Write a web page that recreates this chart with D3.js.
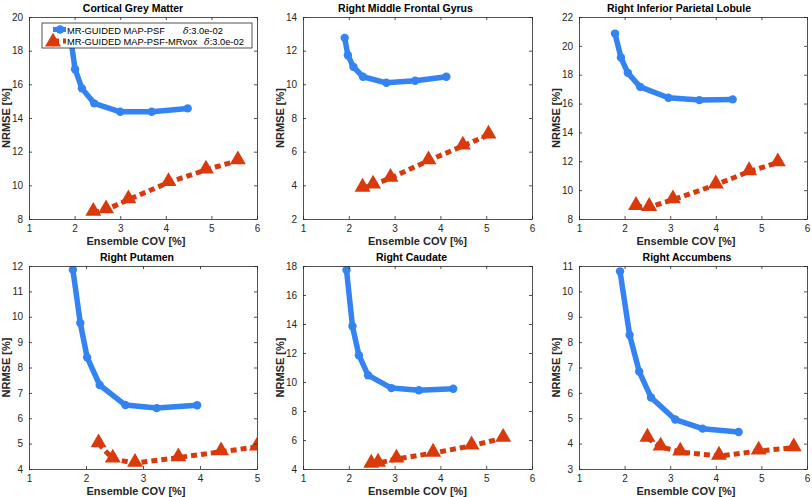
<!DOCTYPE html>
<html><head><meta charset="utf-8">
<script src="https://cdnjs.cloudflare.com/ajax/libs/d3/7.8.5/d3.min.js"></script>
<style>body{margin:0;background:#fff}svg{display:block}</style>
</head><body>
<script>
// ---- data ----
const titles = ["Cortical Grey Matter","Right Middle Frontal Gyrus","Right Inferior Parietal Lobule","Right Putamen","Right Caudate","Right Accumbens"];
const xMin = [1,1,1,1,1,1];
const xMax = [6,6,6,5,6,6];
const yMin = [8,2,8,4,4,3];
const yMax = [20,14,22,12,18,11];
const yStep = [2,2,2,1,2,1];
const seriesNames = ["MR-GUIDED MAP-PSF","MR-GUIDED MAP-PSF-MRvox"];
const deltaLabel = ":3.0e-02";
const psfCov = [
  [1.88,2.01,2.16,2.43,3.00,3.69,4.48],
  [1.91,1.98,2.10,2.31,2.82,3.45,4.13],
  [1.79,1.92,2.07,2.34,2.96,3.64,4.37],
  [1.77,1.90,2.02,2.24,2.69,3.24,3.95],
  [1.95,2.08,2.22,2.42,2.93,3.53,4.28],
  [1.90,2.11,2.32,2.58,3.11,3.71,4.50]
];
const psfNrmse = [
  [19.4,16.9,15.76,14.87,14.37,14.37,14.57],
  [12.76,11.73,11.04,10.45,10.09,10.21,10.45],
  [20.85,19.19,18.13,17.16,16.40,16.24,16.29],
  [11.85,9.75,8.40,7.31,6.52,6.40,6.51],
  [17.73,13.84,11.85,10.47,9.58,9.43,9.53],
  [10.79,8.28,6.84,5.82,4.95,4.59,4.46]
];
const mrvoxCov = [
  [2.41,2.69,3.18,4.06,4.88,5.58],
  [2.30,2.53,2.91,3.74,4.49,5.05],
  [2.25,2.54,3.06,4.00,4.73,5.36],
  [2.22,2.47,2.86,3.62,4.37,5.00],
  [2.49,2.64,3.04,3.84,4.68,5.37],
  [2.50,2.79,3.22,4.07,4.94,5.71]
];
const mrvoxNrmse = [
  [8.40,8.55,9.15,10.17,10.92,11.47],
  [3.84,4.03,4.43,5.47,6.34,6.99],
  [8.88,8.81,9.34,10.37,11.29,11.91],
  [5.00,4.40,4.23,4.45,4.68,4.87],
  [4.34,4.41,4.69,5.10,5.60,6.13],
  [4.22,3.87,3.67,3.51,3.71,3.84]
];

// ---- layout ----
const W = 812, H = 497;
const colX = [[29,257],[303,532],[579,807]];
const rowY = [[17,219],[266,469]];
const titleShift = [-10,-12,-14,-6,-6,-6];
const xLabelShift = [-7,0,-7,-7,0,-7];
const blue = "#3384F2", red = "#D9390B", ink = "#262626";
const font = "'Liberation Sans', Arial, Helvetica, sans-serif";

const svg = d3.select("body").append("svg").attr("width", W).attr("height", H)
  .style("font-family", font);
const tri = d3.symbol().type(d3.symbolTriangle).size(110);

titles.forEach((title, i) => {
  const c = i % 3, r = Math.floor(i / 3);
  const [x0, x1] = colX[c], [y0, y1] = rowY[r];
  const x = d3.scaleLinear().domain([xMin[i], xMax[i]]).range([x0, x1]);
  const y = d3.scaleLinear().domain([yMin[i], yMax[i]]).range([y1, y0]);
  const xt = d3.range(xMin[i], xMax[i] + 0.001, 1);
  const yt = d3.range(yMin[i], yMax[i] + 0.001, yStep[i]);
  const g = svg.append("g");

  const clipId = "clip" + i;
  g.append("clipPath").attr("id", clipId).append("rect")
    .attr("x", x0).attr("y", y0).attr("width", x1 - x0).attr("height", y1 - y0);
  const pg = g.append("g").attr("clip-path", `url(#${clipId})`);

  const line = d3.line().x(d => x(d[0])).y(d => y(d[1]));
  const bpts = psfCov[i].map((v, k) => [v, psfNrmse[i][k]]);
  const rpts = mrvoxCov[i].map((v, k) => [v, mrvoxNrmse[i][k]]);

  pg.append("path").datum(bpts).attr("d", line).attr("fill", "none")
    .attr("stroke", blue).attr("stroke-width", 5.5).attr("stroke-linejoin", "round");
  pg.selectAll("circle.b").data(bpts).enter().append("circle")
    .attr("cx", d => x(d[0])).attr("cy", d => y(d[1])).attr("r", 4.2).attr("fill", blue);

  pg.append("path").datum(rpts).attr("d", line).attr("fill", "none")
    .attr("stroke", red).attr("stroke-width", 5).attr("stroke-dasharray", "6,4");
  pg.selectAll("path.t").data(rpts).enter().append("path")
    .attr("d", tri).attr("transform", d => `translate(${x(d[0])},${y(d[1]) - 1})`).attr("fill", red);

  // axes (ticks inward, box on)
  const axB = g.append("g").attr("transform", `translate(0,${y1})`)
    .call(d3.axisBottom(x).tickValues(xt).tickFormat(d3.format("d")).tickSizeInner(-3).tickSizeOuter(0).tickPadding(6));
  const axT = g.append("g").attr("transform", `translate(0,${y0})`)
    .call(d3.axisTop(x).tickValues(xt).tickFormat("").tickSizeInner(-3).tickSizeOuter(0));
  const axL = g.append("g").attr("transform", `translate(${x0},0)`)
    .call(d3.axisLeft(y).tickValues(yt).tickFormat(d3.format("d")).tickSizeInner(-3).tickSizeOuter(0).tickPadding(6));
  const axR = g.append("g").attr("transform", `translate(${x1},0)`)
    .call(d3.axisRight(y).tickValues(yt).tickFormat("").tickSizeInner(-3).tickSizeOuter(0));
  [axB, axT, axL, axR].forEach(a => {
    a.select(".domain").attr("stroke", ink).attr("stroke-width", 0.8);
    a.selectAll(".tick line").attr("stroke", ink).attr("stroke-width", 0.8);
    a.selectAll(".tick text").attr("fill", ink).style("font-size", "10px").style("font-family", font);
  });

  // title & labels
  g.append("text").attr("x", (x0 + x1) / 2 + titleShift[i]).attr("y", y0 - 5)
    .attr("text-anchor", "middle").style("font-size", "10.5px").style("font-weight", "bold")
    .attr("fill", "#000").text(title);
  g.append("text").attr("x", (x0 + x1) / 2 + xLabelShift[i]).attr("y", y1 + 26)
    .attr("text-anchor", "middle").style("font-size", "11px").style("font-weight", "bold")
    .attr("fill", ink).text("Ensemble COV [%]");
  g.append("text").attr("transform", `translate(${x0 - 19.5},${(y0 + y1) / 2}) rotate(-90)`)
    .attr("text-anchor", "middle").style("font-size", "11px").style("font-weight", "bold")
    .attr("fill", ink).text("NRMSE [%]");

  // legend in first panel
  if (i === 0) {
    const lg = svg.append("g");
    lg.append("rect").attr("x", 42).attr("y", 23).attr("width", 210).attr("height", 25)
      .attr("fill", "#fff").attr("stroke", ink).attr("stroke-width", 0.8);
    lg.append("line").attr("x1", 53).attr("x2", 66).attr("y1", 29.5).attr("y2", 29.5)
      .attr("stroke", blue).attr("stroke-width", 5);
    lg.append("circle").attr("cx", 60).attr("cy", 29.5).attr("r", 4.2).attr("fill", blue);
    lg.append("line").attr("x1", 53).attr("x2", 66).attr("y1", 41).attr("y2", 41)
      .attr("stroke", red).attr("stroke-width", 5).attr("stroke-dasharray", "6,4");
    lg.append("path").attr("d", tri).attr("transform", "translate(53,42)").attr("fill", red);
    const deltaX = [183, 204];
    const targetW = 98;
    seriesNames.forEach((nm, k) => {
      const t = lg.append("text").attr("x", 67).attr("y", 33.5 + k * 11)
        .style("font-size", "10px").attr("fill", "#000");
      t.append("tspan").text(nm);
      t.append("tspan").attr("x", deltaX[k]).style("font-style", "italic").style("font-family", "'DejaVu Serif', serif").text("δ");
      t.append("tspan").text(deltaLabel);
    });
    // scale legend font so the first label matches the reference width
    const first = lg.select("text tspan").node();
    const w = first.getComputedTextLength();
    if (w > 0) lg.selectAll("text").style("font-size", (10 * targetW / w).toFixed(2) + "px");
  }
});
</script>
</body></html>
